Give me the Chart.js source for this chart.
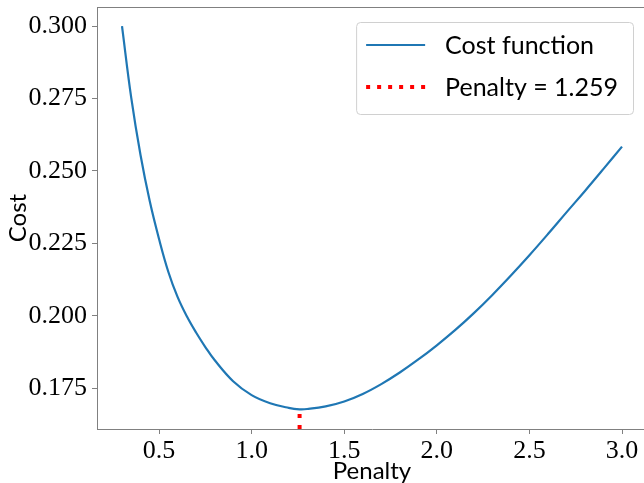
<!DOCTYPE html>
<html>
<head>
<meta charset="utf-8">
<title>Cost vs penalty</title>
<script src="https://cdn.jsdelivr.net/npm/chart.js@4/dist/chart.umd.min.js"></script>
<style>
  html, body { margin: 0; padding: 0; background: #fff; overflow: hidden; }
  #wrap { width: 644px; height: 483px; overflow: hidden; }
</style>
</head>
<body>
<div id="wrap"><canvas id="costChart" width="648" height="483"></canvas></div>
<script>
// --- DATA ---
const penalties = [0.30, 0.35, 0.40, 0.45, 0.50, 0.55, 0.60, 0.65, 0.70, 0.75, 0.80, 0.90, 1.00, 1.10, 1.20, 1.259,
                   1.30, 1.40, 1.50, 1.60, 1.70, 1.80, 1.90, 2.00, 2.10, 2.20, 2.30, 2.40, 2.50, 2.60, 2.70, 2.80, 2.90, 3.00];
const costs = [0.3000, 0.2752, 0.2555, 0.2395, 0.2265, 0.2152, 0.2065, 0.1998, 0.1942, 0.1892, 0.1847, 0.1774, 0.1726, 0.1698, 0.1682, 0.1677,
               0.1678, 0.1687, 0.1704, 0.1730, 0.1764, 0.1804, 0.1849, 0.1898, 0.1951, 0.2009, 0.2072, 0.2139, 0.2209, 0.2282, 0.2357, 0.2431, 0.2507, 0.2584];
const bestPenalty = 1.259;
const bestCost = 0.1677;

const xTicks = [0.5, 1.0, 1.5, 2.0, 2.5, 3.0];
const yTicks = [0.175, 0.200, 0.225, 0.250, 0.275, 0.300];
const xLimits = [0.165, 3.135];
const yLimits = [0.1609, 0.3066];

// --- STYLE ---
const spineColor = '#808080';
const tickFont = { family: '"Liberation Serif", "DejaVu Serif", serif', size: 26 };
const labelFont = { family: 'Lato, "DejaVu Sans", sans-serif', size: 24, lineHeight: 1 };
const legendFont = '25px Lato, "DejaVu Sans", sans-serif';

// top/right spines (Chart.js only draws the axis borders)
const frame = {
    id: 'frame',
    afterDraw(chart) {
        const { ctx, chartArea: a } = chart;
        ctx.save();
        ctx.strokeStyle = spineColor;
        ctx.lineWidth = 1;
        ctx.beginPath();
        ctx.moveTo(a.left, a.top + 0.5);
        ctx.lineTo(a.right, a.top + 0.5);
        ctx.moveTo(a.right - 0.5, a.top);
        ctx.lineTo(a.right - 0.5, a.bottom);
        ctx.stroke();
        ctx.restore();
    }
};

// framed legend in the upper right corner
const boxLegend = {
    id: 'boxLegend',
    afterDraw(chart) {
        const { ctx, chartArea: a } = chart;
        const sets = chart.data.datasets;
        ctx.save();
        ctx.font = legendFont;
        const textW = Math.max(...sets.map(d => ctx.measureText(d.label).width));
        const padL = 10, sample = 59, gap = 20, padR = 15;
        const w = padL + sample + gap + textW + padR;
        const h = 92;
        const x = a.right - 14 - w;
        const y = a.top + 15;

        ctx.beginPath();
        ctx.roundRect(x + 0.5, y + 0.5, w, h, 4);
        ctx.fillStyle = 'rgba(255,255,255,0.8)';
        ctx.fill();
        ctx.strokeStyle = '#d0d0d0';
        ctx.lineWidth = 1;
        ctx.stroke();

        sets.forEach((d, i) => {
            const cy = y + 23 + i * 42;
            ctx.beginPath();
            ctx.strokeStyle = d.borderColor;
            ctx.lineWidth = d.borderWidth;
            ctx.lineCap = 'butt';
            ctx.setLineDash(d.borderDash || []);
            ctx.moveTo(x + padL, cy);
            ctx.lineTo(x + padL + sample, cy);
            ctx.stroke();
            ctx.setLineDash([]);
            ctx.fillStyle = '#000';
            ctx.textBaseline = 'middle';
            ctx.fillText(d.label, x + padL + sample + gap, cy + 1);
        });
        ctx.restore();
    }
};

const ctx = document.getElementById('costChart').getContext('2d');
new Chart(ctx, {
    type: 'line',
    data: {
        datasets: [
            {
                label: 'Cost function',
                data: penalties.map((p, i) => ({ x: p, y: costs[i] })),
                borderColor: '#1f77b4',
                borderWidth: 2.2,
                tension: 0.4,
                pointRadius: 0,
                fill: false
            },
            {
                label: 'Penalty = ' + bestPenalty.toFixed(3),
                data: [{ x: bestPenalty, y: yLimits[0] }, { x: bestPenalty, y: bestCost }],
                borderColor: '#ff0000',
                borderWidth: 4,
                borderDash: [4, 7],
                borderCapStyle: 'butt',
                pointRadius: 0,
                fill: false
            }
        ]
    },
    options: {
        responsive: false,
        animation: false,
        devicePixelRatio: 1,
        layout: { padding: { top: 7, right: 1, left: 0, bottom: 0 } },
        plugins: {
            legend: { display: false },
            tooltip: { enabled: false }
        },
        scales: {
            x: {
                type: 'linear',
                min: xLimits[0],
                max: xLimits[1],
                afterBuildTicks: s => { s.ticks = xTicks.map(v => ({ value: v })); },
                afterFit: s => { s.height = 54; s.paddingLeft = 0; s.paddingRight = 0; },
                grid: { drawOnChartArea: false, tickLength: 5, color: spineColor },
                border: { color: spineColor, width: 1 },
                ticks: { font: tickFont, color: '#000', padding: 2, maxRotation: 0, callback: v => v.toFixed(1) },
                title: { display: true, text: 'Penalty', font: labelFont, color: '#000', padding: { top: 0, bottom: 0 } }
            },
            y: {
                type: 'linear',
                min: yLimits[0],
                max: yLimits[1],
                afterBuildTicks: s => { s.ticks = yTicks.map(v => ({ value: v })); },
                afterFit: s => { s.width = 97; s.paddingTop = 0; s.paddingBottom = 0; },
                grid: { drawOnChartArea: false, tickLength: 5, color: spineColor },
                border: { color: spineColor, width: 1 },
                ticks: { font: tickFont, color: '#000', padding: 5, callback: v => v.toFixed(3) },
                title: { display: true, text: 'Cost', font: labelFont, color: '#000', padding: { top: 6, bottom: 0 } }
            }
        }
    },
    plugins: [frame, boxLegend]
});
</script>
</body>
</html>
